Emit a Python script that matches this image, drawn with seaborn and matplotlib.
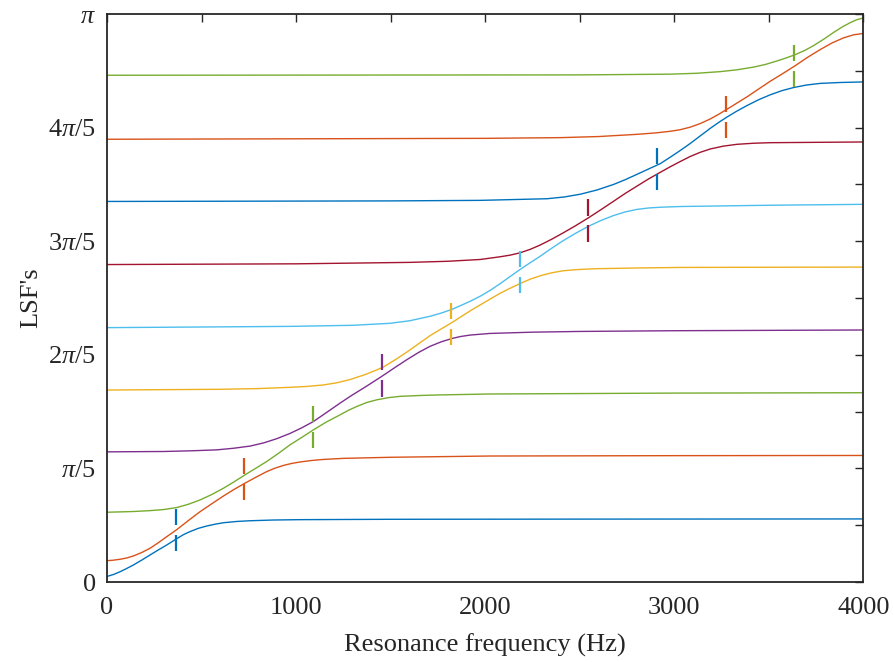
import numpy as np
import pandas as pd
import seaborn as sns
import matplotlib.pyplot as plt

# colours (MATLAB default palette)
BLUE, ORANGE, YELLOW = '#0072BD', '#D95319', '#EDB120'
PURPLE, GREEN, CYAN, DRED = '#7E2F8E', '#77AC30', '#4DBEEE', '#A2142F'
curve_colors = [BLUE, ORANGE, GREEN, PURPLE, YELLOW, CYAN, DRED, BLUE, ORANGE, GREEN]

# LSF curves (Hz, rad)
f1 = [0, 35, 69, 104, 139, 183, 228, 272, 316, 369, 404, 439, 483, 528, 572, 616, 686, 757, 880, 1021,
      1500, 2500, 4000]
v1 = [0.031, 0.042, 0.057, 0.075, 0.094, 0.121, 0.150, 0.178, 0.205, 0.240, 0.262, 0.279, 0.297, 0.310,
      0.320, 0.328, 0.335, 0.339, 0.343, 0.345, 0.347, 0.348, 0.349]
f2 = [0, 35, 69, 104, 139, 183, 228, 272, 316, 369, 430, 492, 554, 616, 673, 730, 788, 845, 889, 933,
      977, 1021, 1080, 1143, 1250, 1500, 2026, 3000, 4000]
v2 = [0.118, 0.121, 0.126, 0.133, 0.144, 0.163, 0.187, 0.218, 0.251, 0.290, 0.340, 0.389, 0.433, 0.476,
      0.513, 0.547, 0.580, 0.611, 0.630, 0.645, 0.656, 0.664, 0.672, 0.678, 0.684, 0.690, 0.697, 0.699, 0.700]
f3 = [0, 139, 228, 300, 369, 430, 492, 554, 616, 673, 730, 788, 845, 907, 968, 1030, 1092, 1160, 1233,
      1277, 1321, 1374, 1427, 1490, 1550, 1660, 1762, 2026, 3000, 4000]
v3 = [0.386, 0.390, 0.395, 0.401, 0.412, 0.430, 0.454, 0.484, 0.519, 0.555, 0.593, 0.630, 0.667, 0.712,
      0.759, 0.800, 0.842, 0.885, 0.925, 0.950, 0.971, 0.993, 1.008, 1.020, 1.027, 1.032, 1.035, 1.040,
      1.045, 1.047]
f4 = [0, 300, 450, 580, 670, 757, 830, 898, 968, 1030, 1092, 1160, 1233, 1295, 1357, 1408, 1458, 1522,
      1586, 1648, 1709, 1766, 1824, 1870, 1921, 2026, 2250, 2500, 3000, 4000]
v4 = [0.720, 0.722, 0.726, 0.731, 0.740, 0.752, 0.770, 0.793, 0.822, 0.853, 0.888, 0.937, 0.990, 1.033,
      1.073, 1.107, 1.141, 1.186, 1.230, 1.270, 1.304, 1.328, 1.347, 1.358, 1.366, 1.375, 1.382, 1.386,
      1.390, 1.394]
f5 = [0, 600, 800, 968, 1060, 1144, 1215, 1286, 1372, 1458, 1522, 1586, 1648, 1709, 1766, 1824, 1870,
      1921, 1974, 2026, 2079, 2132, 2185, 2238, 2291, 2350, 2414, 2500, 2591, 2800, 3032, 4000]
v5 = [1.062, 1.066, 1.070, 1.077, 1.082, 1.090, 1.102, 1.120, 1.150, 1.187, 1.228, 1.272, 1.318, 1.363,
      1.399, 1.435, 1.466, 1.500, 1.533, 1.565, 1.597, 1.625, 1.651, 1.675, 1.694, 1.710, 1.722, 1.729,
      1.733, 1.737, 1.740, 1.742]
f6 = [0, 968, 1300, 1497, 1600, 1709, 1766, 1824, 1870, 1921, 1974, 2026, 2079, 2132, 2185, 2238, 2291,
      2350, 2414, 2480, 2547, 2613, 2679, 2740, 2803, 2865, 2926, 3032, 3500, 4000]
v6 = [1.407, 1.414, 1.420, 1.431, 1.445, 1.470, 1.487, 1.508, 1.529, 1.553, 1.581, 1.613, 1.650, 1.690,
      1.729, 1.766, 1.802, 1.845, 1.889, 1.930, 1.968, 2.000, 2.027, 2.047, 2.061, 2.069, 2.073, 2.077,
      2.084, 2.089]
f7 = [0, 1000, 1600, 1800, 1974, 2079, 2132, 2185, 2238, 2291, 2350, 2414, 2480, 2547, 2613, 2679, 2740,
      2803, 2865, 2926, 2979, 3032, 3085, 3138, 3190, 3260, 3332, 3420, 3508, 4000]
v7 = [1.756, 1.760, 1.768, 1.774, 1.784, 1.799, 1.808, 1.821, 1.840, 1.864, 1.895, 1.932, 1.972, 2.015,
      2.060, 2.106, 2.149, 2.190, 2.230, 2.266, 2.297, 2.326, 2.354, 2.377, 2.395, 2.411, 2.421, 2.427,
      2.430, 2.434]
f8 = [0, 1500, 1974, 2327, 2420, 2503, 2590, 2679, 2740, 2803, 2865, 2926, 2979, 3032, 3085, 3138, 3190,
      3235, 3279, 3330, 3384, 3445, 3508, 3570, 3631, 3700, 3772, 3880, 4000]
v8 = [2.105, 2.108, 2.111, 2.120, 2.130, 2.145, 2.168, 2.199, 2.225, 2.255, 2.285, 2.314, 2.350, 2.387,
      2.426, 2.468, 2.509, 2.542, 2.572, 2.604, 2.635, 2.667, 2.695, 2.718, 2.735, 2.749, 2.758, 2.763,
      2.766]
f9 = [0, 2000, 2400, 2600, 2800, 2900, 2979, 3032, 3085, 3138, 3190, 3235, 3279, 3330, 3384, 3445, 3508,
      3575, 3640, 3705, 3772, 3835, 3896, 3950, 4000]
v9 = [2.449, 2.454, 2.458, 2.464, 2.476, 2.484, 2.493, 2.502, 2.516, 2.536, 2.561, 2.587, 2.615, 2.648,
      2.683, 2.726, 2.770, 2.813, 2.856, 2.902, 2.945, 2.982, 3.010, 3.027, 3.034]
f10 = [0, 2500, 2979, 3120, 3243, 3330, 3420, 3483, 3543, 3590, 3640, 3690, 3737, 3790, 3843, 3890, 3931,
       3965, 4000]
v10 = [2.803, 2.805, 2.809, 2.814, 2.823, 2.833, 2.848, 2.863, 2.882, 2.898, 2.917, 2.940, 2.967, 3.002,
       3.040, 3.071, 3.094, 3.110, 3.120]

# resonance markers: frequency and angle (rad)
mark_freq = [364, 727, 1091, 1455, 1818, 2182, 2545, 2909, 3273, 3636]
mark_val = [0.286, 0.571, 0.857, 1.143, 1.428, 1.714, 1.999, 2.285, 2.571, 2.856]

freqs = [f1, f2, f3, f4, f5, f6, f7, f8, f9, f10]
vals = [v1, v2, v3, v4, v5, v6, v7, v8, v9, v10]
df = pd.concat([pd.DataFrame({'freq': f, 'lsf': v, 'curve': i})
                for i, (f, v) in enumerate(zip(freqs, vals))], ignore_index=True)

sns.set_style('white')
plt.rcParams['font.family'] = ['Liberation Serif', 'DejaVu Serif']
plt.rcParams['mathtext.fontset'] = 'custom'
plt.rcParams['mathtext.rm'] = 'Liberation Serif'
plt.rcParams['mathtext.it'] = 'Liberation Serif:italic'

fig = plt.figure(figsize=(8.95, 6.62), dpi=100)
ax = fig.add_axes([0.1196, 0.1208, 0.8450, 0.8580])

sns.lineplot(data=df, x='freq', y='lsf', hue='curve', palette=curve_colors,
             estimator=None, sort=False, legend=False, linewidth=1.0, ax=ax)

gap, seg = 0.027, 0.117
for f, c, col in zip(mark_freq, mark_val, curve_colors):
    ax.vlines([f, f], [c + gap, c - seg], [c + seg, c - gap], color=col, lw=1.6)

ax.set_xlim(0, 4000)
ax.set_ylim(0, np.pi)
ax.set_xticks(np.arange(0, 4001, 500))
ax.set_xticklabels(['0', '', '1000', '', '2000', '', '3000', '', '4000'])
ax.set_yticks(np.arange(11) * np.pi / 10)
ax.set_yticklabels(['0', '', r'$\pi/5$', '', r'$2\pi/5$', '', r'$3\pi/5$', '',
                    r'$4\pi/5$', '', r'$\pi$'])
ax.tick_params(direction='in', top=True, right=True, length=6, width=1.0,
               color='#262626', labelsize=19, labelcolor='#262626')
ax.tick_params(axis='x', pad=11)
ax.tick_params(axis='y', pad=8)
for s in ax.spines.values():
    s.set_color('#262626')
    s.set_linewidth(1.3)

ax.set_xlabel('Resonance frequency (Hz)', fontsize=19, color='#262626', labelpad=10)
ax.set_ylabel("LSF's", fontsize=19, color='#262626', labelpad=4.5)

fig.savefig('out.png', dpi=100)
